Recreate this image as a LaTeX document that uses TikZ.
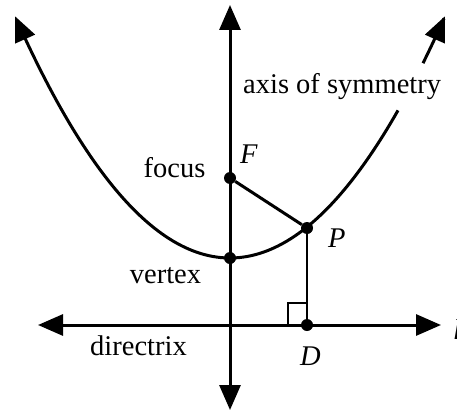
\documentclass[tikz,border=0pt]{standalone}
\usepackage{fontspec}
\setmainfont{Liberation Serif}
\usetikzlibrary{arrows.meta}
\tikzset{bigtip/.tip={Triangle[length=25pt,width=21pt]}}
\begin{document}
\begin{tikzpicture}[x=1pt,y=-1pt,
  axisline/.style={line width=3pt},
  thinline/.style={line width=2pt},
  dot/.style={circle,fill,inner sep=0pt,minimum size=12pt},
  lbl/.style={font=\fontsize{28.5}{30}\selectfont,inner sep=0pt},
  ilbl/.style={font=\fontsize{28.5}{30}\selectfont\itshape,inner sep=0pt}]
\useasboundingbox (0,0) rectangle (457,412);
% coordinates for axis and directrix ends
\coordinate (axtop) at (230,5);
\coordinate (axbot) at (230,410);
\coordinate (dirL) at (38,325);
\coordinate (dirR) at (441,325);
% axes
\draw[axisline,bigtip-bigtip] (axtop) -- (axbot);
\draw[axisline,bigtip-bigtip] (dirL) -- (dirR);
% parabola
\draw[axisline,bigtip-] plot[domain=15:398,samples=100,smooth] (\x,{258-52.3*((\x-230)/100)^2});
\draw[axisline,-bigtip] plot[domain=423:445,samples=20,smooth] (\x,{258-52.3*((\x-230)/100)^2});
% points
\node[dot] (F) at (230,178) {};
\node[dot] (V) at (230,258) {};
\node[dot] (P) at (307,228) {};
\node[dot] (D) at (307,325) {};
% connectors
\draw[axisline] (F) -- (P);
\draw[thinline] (P) -- (D);
% right angle mark
\draw[thinline] (288,325) -- (288,303) -- (307,303);
% labels
\node[lbl,anchor=base] (lfocus) at (174.5,177) {focus};
\node[lbl,anchor=base] (lvertex) at (165.5,283) {vertex};
\node[lbl,anchor=base] (ldir) at (138.5,355) {directrix};
\node[lbl,anchor=base west] (laxis) at (243,93) {axis of symmetry};
\node[ilbl,anchor=base west] (lF) at (240,163) {F};
\node[ilbl,anchor=base west] (lP) at (328,247) {P};
\node[ilbl,anchor=base west] (lD) at (300,365) {D};
\node[ilbl,anchor=base west] (ll) at (453,339) {l};
\end{tikzpicture}
\end{document}
